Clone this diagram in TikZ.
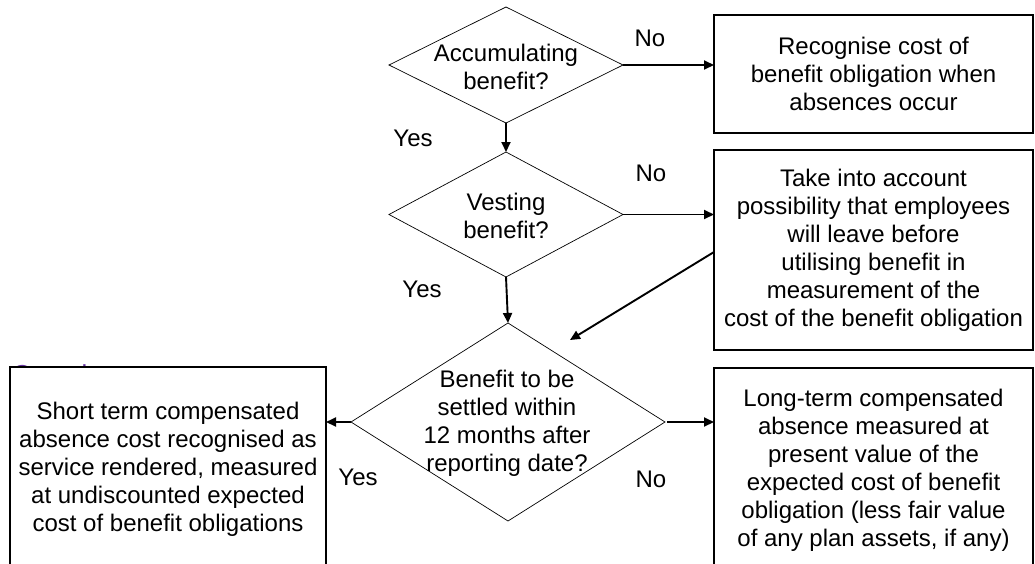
\documentclass[tikz,border=0pt]{standalone}
\usepackage{fontspec}
\setmainfont{Liberation Sans}
\usetikzlibrary{shapes.geometric,arrows.meta}
\definecolor{ovpurple}{RGB}{102,51,160}
\tikzset{
  txt/.style={font=\fontsize{24}{28}\selectfont, align=center},
  boxnode/.style={draw, line width=1.2pt, fill=white, rectangle, inner sep=0pt, outer sep=0pt, anchor=north west, txt},
  dia/.style={draw, line width=0.7pt, diamond, inner sep=0pt, outer sep=0pt},
  diatext/.style={txt},
  lbl/.style={font=\fontsize{24}{28}\selectfont, inner sep=0pt},
  arr/.style={line width=1.9pt, -{Triangle[length=10pt,width=9pt]}}
}
\begin{document}
\begin{tikzpicture}[x=1pt,y=-1pt]
\useasboundingbox (0,0) rectangle (1035,563);
\clip (0,0) rectangle (1035,563);
% partially hidden heading
\node[anchor=base west, inner sep=0pt, text=ovpurple, font=\fontsize{26}{30}\selectfont] (ov) at (12,383) {Overview};
% boxes
\node[boxnode, minimum width=319pt, minimum height=118pt] (b1) at (714,15)
  {Recognise cost of\\benefit obligation when\\absences occur};
\node[boxnode, minimum width=319pt, minimum height=200pt] (b2) at (714,150)
  {Take into account\\possibility that employees\\will leave before\\utilising benefit in\\measurement of the\\cost of the benefit obligation};
\node[boxnode, minimum width=319pt, minimum height=204pt] (b3) at (714,368)
  {Long-term compensated\\absence measured at\\present value of the\\expected cost of benefit\\obligation (less fair value\\of any plan assets, if any)};
\node[boxnode, minimum width=316pt, minimum height=204pt] (lb) at (10,367)
  {Short term compensated\\absence cost recognised as\\service rendered, measured\\at undiscounted expected\\cost of benefit obligations};
% diamonds
\node[dia, minimum width=234pt, minimum height=116pt] (d1) at (506,65) {};
\node[diatext] (d1t) at (506,67) {Accumulating\\benefit?};
\node[dia, minimum width=234pt, minimum height=125pt] (d2) at (506,214.5) {};
\node[diatext] (d2t) at (506,216) {Vesting\\benefit?};
\node[dia, minimum width=314pt, minimum height=198pt] (d3) at (508,422) {};
\node[diatext] (d3t) at (507,423) {Benefit to be\\settled within\\12 months after\\reporting date?};
% labels
\node[lbl] (no1) at (650,38) {No};
\node[lbl] (yes1) at (413,138) {Yes};
\node[lbl] (no2) at (651,173) {No};
\node[lbl] (yes2) at (422,289) {Yes};
\node[lbl] (yes3) at (358,477) {Yes};
\node[lbl] (no3) at (651,479) {No};
% connectors
\coordinate (tip) at (570,340);
\draw[arr] (d1.east) -- (d1.east -| b1.west);
\draw[arr] (d1.south) -- (d2.north);
\draw[arr] (d2.east) -- (d2.east -| b2.west);
\draw[arr] (d2.south) -- (d3.north);
\draw[arr] ([yshift=-2pt]b2.west) -- (tip);
\draw[arr] (d3.west) -- (d3.west -| lb.east);
\draw[arr] ([xshift=2pt]d3.east) -- (d3.east -| b3.west);
\end{tikzpicture}
\end{document}
